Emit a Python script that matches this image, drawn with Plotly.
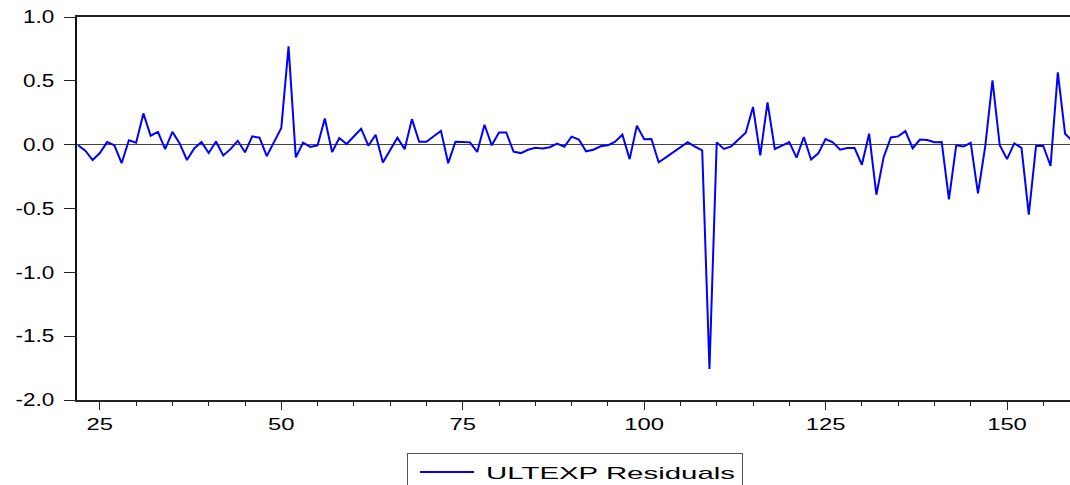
import plotly.graph_objects as go

obs = list(range(22, 160))
residuals = [
    -0.005, -0.047, -0.120, -0.066, 0.020, -0.005, -0.145, 0.035, 0.015, 0.245,   # 22-31
    0.070, 0.100, -0.035, 0.100, 0.010, -0.120, -0.030, 0.020, -0.065, 0.025,      # 32-41
    -0.085, -0.035, 0.030, -0.060, 0.065, 0.055, -0.090, 0.020, 0.130, 0.770,      # 42-51
    -0.100, 0.015, -0.018, -0.005, 0.205, -0.057, 0.052, 0.005, 0.065, 0.125,      # 52-61
    -0.008, 0.078, -0.140, -0.040, 0.055, -0.035, 0.200, 0.023, 0.023, 0.066,      # 62-71
    0.108, -0.145, 0.023, 0.020, 0.018, -0.057, 0.156, -0.005, 0.096, 0.096,       # 72-81
    -0.055, -0.066, -0.040, -0.025, -0.030, -0.020, 0.008, -0.016, 0.063, 0.040,   # 82-91
    -0.052, -0.040, -0.013, -0.005, 0.023, 0.078, -0.113, 0.149, 0.042, 0.045,     # 92-101
    -0.138, -0.100, -0.060, -0.020, 0.020, -0.016, -0.045, -1.757, 0.018, -0.033,  # 102-111
    -0.013, 0.040, 0.094, 0.295, -0.084, 0.331, -0.034, -0.008, 0.020, -0.102,     # 112-121
    0.060, -0.117, -0.068, 0.044, 0.018, -0.040, -0.027, -0.027, -0.158, 0.086,    # 122-131
    -0.392, -0.098, 0.056, 0.065, 0.106, -0.028, 0.040, 0.037, 0.019, 0.021,       # 132-141
    -0.429, -0.005, -0.015, 0.015, -0.382, -0.013, 0.503, -0.005, -0.113, 0.010,   # 142-151
    -0.025, -0.548, -0.010, -0.010, -0.167, 0.566, 0.086, 0.030,                   # 152-159
]
series_name = "ULTEXP Residuals"

x_tickvals = [25, 50, 75, 100, 125, 150]
y_tickvals = [1.0, 0.5, 0.0, -0.5, -1.0, -1.5, -2.0]
y_ticktext = ["1.0", "0.5", "0.0", "-0.5", "-1.0", "-1.5", "-2.0"]

FONT = "Liberation Sans, Arial, sans-serif"

fig = go.Figure()
fig.add_trace(go.Scatter(
    x=obs, y=residuals, mode="lines", name=series_name,
    line=dict(color="#0000FF", width=2),
    showlegend=True,
))

fig.update_layout(
    width=1070, height=485,
    margin=dict(l=77, r=0, t=17, b=85),
    paper_bgcolor="white", plot_bgcolor="white",
    font=dict(family=FONT, size=17, color="black"),
    showlegend=True,
    legend=dict(
        orientation="h",
        xref="container", yref="container",
        x=0.5374, y=0.026, xanchor="center", yanchor="middle",
        bordercolor="#555555", borderwidth=1,
        bgcolor="white",
        font=dict(family=FONT, size=17, color="black"),
        itemwidth=68,
        entrywidth=251,
    ),
    xaxis=dict(
        range=[21.85, 158.68],
        showgrid=False, zeroline=False,
        showline=True, linecolor="#222222", linewidth=2, mirror=True,
        ticks="outside", ticklen=8, tickwidth=1, tickcolor="#222222",
        tickmode="array", tickvals=x_tickvals,
        ticklabelstandoff=0,
        minor=dict(ticks="outside", ticklen=4, tickwidth=1, tickcolor="#222222",
                   tickmode="linear", tick0=0, dtick=5, showgrid=False),
        tickfont=dict(family=FONT, size=17, color="black"),
    ),
    yaxis=dict(
        range=[-2.0, 1.0],
        showgrid=False,
        zeroline=True, zerolinecolor="#444444", zerolinewidth=1,
        showline=True, linecolor="#111111", linewidth=2, mirror=False,
        ticks="outside", ticklen=11, tickwidth=1, tickcolor="#222222",
        tickmode="array", tickvals=y_tickvals, ticktext=y_ticktext,
        ticklabelstandoff=6,
        tickfont=dict(family=FONT, size=18, color="black"),
    ),
)

post = """
var gd = document.getElementById('{plot_id}');
function stretchText(){
  gd.querySelectorAll('.xtick text').forEach(function(t){
    var w = t.getComputedTextLength();
    t.setAttribute('textLength', (w*1.4).toFixed(1));
    t.setAttribute('lengthAdjust','spacingAndGlyphs');
  });
  gd.querySelectorAll('.ytick text').forEach(function(t){
    var w = t.getComputedTextLength();
    t.setAttribute('textLength', (w*1.25).toFixed(1));
    t.setAttribute('lengthAdjust','spacingAndGlyphs');
  });
  gd.querySelectorAll('.legendtext').forEach(function(t){
    t.setAttribute('textLength','249');
    t.setAttribute('lengthAdjust','spacingAndGlyphs');
  });
  gd.querySelectorAll('.legendlines path').forEach(function(p){
    p.setAttribute('d','M12,0h54');
  });
}
stretchText();
"""

fig.write_html("out.html", post_script=post)
